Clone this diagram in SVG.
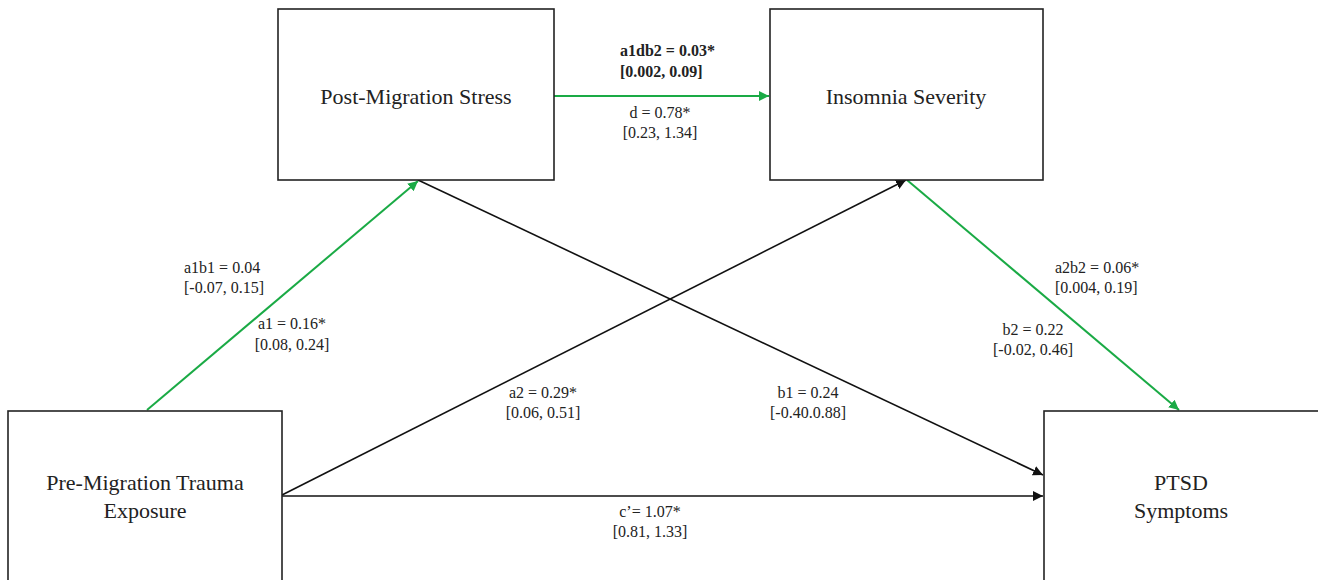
<svg xmlns="http://www.w3.org/2000/svg" width="1318" height="580" viewBox="0 0 1318 580">
<style>
.box{fill:#fff;stroke:#222;stroke-width:1.6}
.nl{font-family:"Liberation Serif",serif;font-size:22px;fill:#222;text-anchor:middle}
.el{font-family:"Liberation Serif",serif;font-size:16px;fill:#222}
.c{text-anchor:middle}
.b{font-weight:bold}
.blk{stroke:#111;stroke-width:1.6;fill:none}
.grn{stroke:#1aaa45;stroke-width:2;fill:none}
</style>
<defs>
<marker id="ab" viewBox="0 0 10 10" refX="10" refY="5" markerWidth="10" markerHeight="10" markerUnits="userSpaceOnUse" orient="auto"><path d="M0,0 L10,5 L0,10 z" fill="#111"/></marker>
<marker id="ag" viewBox="0 0 10 10" refX="10" refY="5" markerWidth="10" markerHeight="10" markerUnits="userSpaceOnUse" orient="auto"><path d="M0,0 L10,5 L0,10 z" fill="#1aaa45"/></marker>
</defs>
<rect width="1318" height="580" fill="#fff"/>
<g id="connectors">
<line class="blk" x1="418" y1="180" x2="1043" y2="475" marker-end="url(#ab)"/>
<line class="blk" x1="282" y1="495" x2="906" y2="180" marker-end="url(#ab)"/>
<line class="blk" x1="282" y1="496" x2="1043" y2="496" marker-end="url(#ab)"/>
<line class="grn" x1="147" y1="410" x2="418" y2="181" marker-end="url(#ag)"/>
<line class="grn" x1="554" y1="96" x2="769" y2="96" marker-end="url(#ag)"/>
<line class="grn" x1="907" y1="180" x2="1179" y2="410" marker-end="url(#ag)"/>
</g>
<g id="node-post">
<rect class="box" x="278" y="9" width="276" height="171"/>
<text class="nl" x="416" y="104">Post-Migration Stress</text>
</g>
<g id="node-insomnia">
<rect class="box" x="770" y="9" width="273" height="171"/>
<text class="nl" x="906" y="104">Insomnia Severity</text>
</g>
<g id="node-pre">
<rect class="box" x="8" y="411" width="274" height="200"/>
<text class="nl" x="145" y="490">Pre-Migration Trauma</text>
<text class="nl" x="145" y="518">Exposure</text>
</g>
<g id="node-ptsd">
<rect class="box" x="1044" y="411" width="280" height="200"/>
<text class="nl" x="1181" y="490">PTSD</text>
<text class="nl" x="1181" y="518">Symptoms</text>
</g>
<g id="labels">
<text class="el b" x="620" y="56">a1db2 = 0.03*</text>
<text class="el b" x="620" y="77">[0.002, 0.09]</text>
<text class="el c" x="660" y="118">d = 0.78*</text>
<text class="el c" x="660" y="138">[0.23, 1.34]</text>
<text class="el" x="184" y="273">a1b1 = 0.04</text>
<text class="el" x="184" y="293">[-0.07, 0.15]</text>
<text class="el c" x="292" y="329">a1 = 0.16*</text>
<text class="el c" x="292" y="350">[0.08, 0.24]</text>
<text class="el" x="1055" y="273">a2b2 = 0.06*</text>
<text class="el" x="1055" y="293">[0.004, 0.19]</text>
<text class="el c" x="1033" y="335">b2 = 0.22</text>
<text class="el c" x="1033" y="355">[-0.02, 0.46]</text>
<text class="el c" x="543" y="398">a2 = 0.29*</text>
<text class="el c" x="543" y="418">[0.06, 0.51]</text>
<text class="el c" x="808" y="398">b1 = 0.24</text>
<text class="el c" x="808" y="418">[-0.40.0.88]</text>
<text class="el c" x="650" y="517">c’= 1.07*</text>
<text class="el c" x="650" y="537">[0.81, 1.33]</text>
</g>
</svg>
